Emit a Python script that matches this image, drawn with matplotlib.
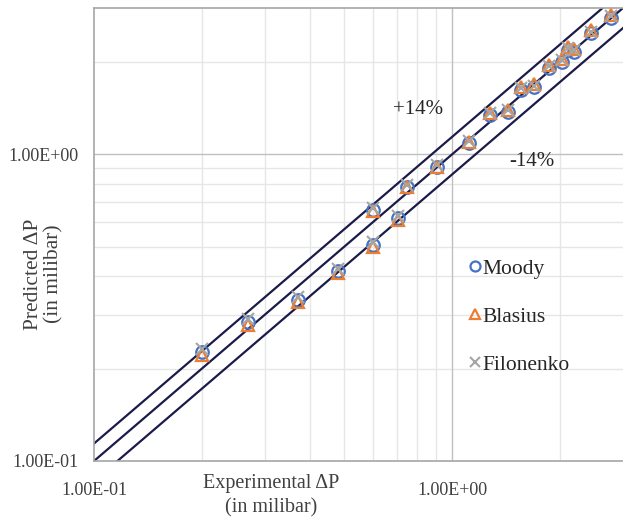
import matplotlib
matplotlib.use("Agg")
import matplotlib.pyplot as plt
from matplotlib.ticker import NullFormatter, FixedLocator

plt.rcParams["font.family"] = ["Liberation Serif", "DejaVu Serif"]

# Experimental vs predicted pressure drop (milibar)
exp_dp = [0.200, 0.269, 0.371, 0.480, 0.601, 0.601, 0.707, 0.749, 0.908, 1.116,
          1.277, 1.434, 1.558, 1.695, 1.866, 2.029, 2.109, 2.192, 2.445, 2.781]
moody = [0.226, 0.283, 0.336, 0.416, 0.508, 0.660, 0.618, 0.784, 0.908, 1.090,
         1.345, 1.378, 1.625, 1.660, 1.915, 2.000, 2.190, 2.160, 2.490, 2.790]
blasius = [0.221, 0.277, 0.329, 0.409, 0.500, 0.652, 0.612, 0.782, 0.912, 1.100,
           1.368, 1.398, 1.652, 1.690, 1.950, 2.040, 2.240, 2.200, 2.535, 2.840]
filonenko = [0.232, 0.290, 0.342, 0.424, 0.516, 0.670, 0.628, 0.795, 0.920, 1.105,
             1.360, 1.390, 1.640, 1.675, 1.935, 2.025, 2.215, 2.185, 2.510, 2.815]

# error band factors
bands = [1.14, 1.0, 0.86]

fig = plt.figure(figsize=(6.23, 5.21), dpi=100)
ax = fig.add_axes([0.1509, 0.1152, 0.8491, 0.8695])
ax.set_xscale("log")
ax.set_yscale("log")
ax.set_xlim(0.1, 3.0)
ax.set_ylim(0.1, 3.0)

# grid: light minor lines, darker line at 1.0
minor = [0.2, 0.3, 0.4, 0.5, 0.6, 0.7, 0.8, 0.9, 2.0]
for v in minor:
    ax.axvline(v, color="#e6e6e6", lw=1.0, zorder=0)
    ax.axhline(v, color="#e6e6e6", lw=1.0, zorder=0)
ax.axvline(1.0, color="#c0c0c0", lw=1.0, zorder=0)
ax.axhline(1.0, color="#c0c0c0", lw=1.0, zorder=0)

xs = [0.1, 3.0]
for k in bands:
    ax.plot(xs, [k * x for x in xs], color="#1b1b4a", lw=1.6, zorder=2)

ax.plot(exp_dp, moody, "o", ms=9, mfc="none", mec="#4472C4", mew=1.6,
        label="Moody", zorder=3)
ax.plot(exp_dp, blasius, "^", ms=9, mfc="none", mec="#ED7D31", mew=1.6,
        label="Blasius", zorder=4)
ax.plot(exp_dp, filonenko, "x", ms=8.5, mec="#A5A5A5", mew=1.5,
        label="Filonenko", zorder=5)

ax.xaxis.set_major_locator(FixedLocator([0.1, 1.0]))
ax.yaxis.set_major_locator(FixedLocator([0.1, 1.0]))
ax.xaxis.set_minor_formatter(NullFormatter())
ax.yaxis.set_minor_formatter(NullFormatter())
ax.set_xticklabels(["1.00E-01", "1.00E+00"])
ax.set_yticklabels(["1.00E-01", "1.00E+00"])
ax.tick_params(which="both", length=0, labelsize=13, colors="#404040")
ax.tick_params(axis="x", pad=15)
ax.tick_params(axis="y", pad=11)

for side in ["left", "bottom", "top"]:
    ax.spines[side].set_color("#a6a6a6")
    ax.spines[side].set_linewidth(1.2)
ax.spines["right"].set_visible(False)

ax.text(0.805, 1.40, "+14%", fontsize=15, ha="center", va="center", color="#262626")
ax.text(1.665, 0.95, "-14%", fontsize=15, ha="center", va="center", color="#262626")

fig.text(271 / 623, 1 - 496 / 521, "Experimental \u0394P\n(in milibar)", fontsize=14.5,
         ha="center", va="center", color="#404040", linespacing=1.4)
fig.text(44 / 623, 1 - 274 / 521, "Predicted \u0394P\n(in milibar)", fontsize=15.5,
         ha="center", va="center", rotation=90, color="#404040", linespacing=1.1)

leg = ax.legend(loc="upper left", bbox_to_anchor=(0.71, 0.447), frameon=False,
                fontsize=15.5, handlelength=0.5, handletextpad=0.1,
                labelspacing=1.3, borderpad=0, borderaxespad=0, markerscale=0.8)
for t in leg.get_texts():
    t.set_color("#262626")

fig.savefig("out.png", dpi=100)
